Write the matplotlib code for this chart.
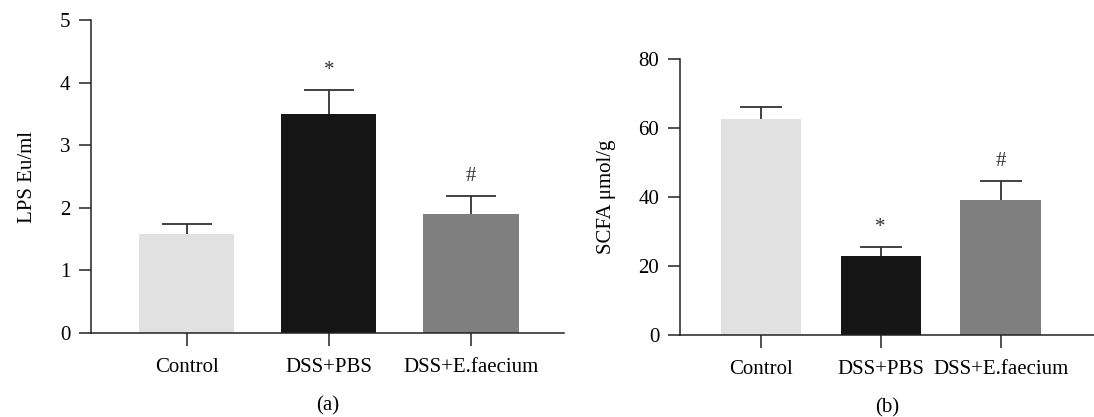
import numpy as np
import matplotlib.pyplot as plt

plt.rcParams['font.family'] = ['Liberation Serif', 'DejaVu Serif']

groups = ['Control', 'DSS+PBS', 'DSS+E.faecium']
colors = ['#e0e1e0', '#151515', '#7f7f7f']

# panel (a) LPS
lps_mean = [1.58, 3.50, 1.90]
lps_err = [0.16, 0.39, 0.29]
lps_marks = ['', '*', '#']

# panel (b) SCFA
scfa_mean = [62.6, 22.9, 39.1]
scfa_err = [3.5, 2.7, 5.5]
scfa_marks = ['', '*', '#']

fig = plt.figure(figsize=(10.94, 4.17), dpi=100)
ax1 = fig.add_axes([0.0832, 0.2014, 0.4323, 0.7506])
ax2 = fig.add_axes([0.6216, 0.1966, 0.3784, 0.6619])


def draw(ax, mean, err, marks, ylim, yticks, ylabel, xright, tag):
    x = np.arange(len(groups))
    mean = np.array(mean)
    err = np.array(err)
    ax.bar(x, mean, width=0.67, color=colors, zorder=2)
    # upper error bars only, no cap at the bar top
    ax.vlines(x, mean, mean + err, color='#333333', lw=1.3, zorder=3)
    ax.hlines(mean + err, x - 0.175, x + 0.175, color='#333333', lw=1.3, zorder=3)
    for xi, m, e, s in zip(x, mean, err, marks):
        if s:
            ax.annotate(s, (xi, m + e), xytext=(0, 7), textcoords='offset points',
                        ha='center', va='bottom', fontsize=15, color='#333333')
    ax.set_xlim(-0.675, xright)
    ax.set_ylim(*ylim)
    ax.set_yticks(yticks)
    ax.set_xticks(x)
    ax.set_xticklabels(groups)
    ax.set_ylabel(ylabel, fontsize=15, labelpad=16)
    for side in ['top', 'right']:
        ax.spines[side].set_visible(False)
    for side in ['left', 'bottom']:
        ax.spines[side].set_linewidth(1.1)
        ax.spines[side].set_color('#222222')
    ax.tick_params(direction='out', length=9, width=1.1, color='#222222',
                   labelsize=15, pad=6)
    ax.tick_params(axis='x', pad=9)
    ax.set_xlabel(tag, fontsize=15, labelpad=14)


draw(ax1, lps_mean, lps_err, lps_marks, (0, 5), [0, 1, 2, 3, 4, 5],
     'LPS Eu/ml', 2.655, '(a)')
draw(ax2, scfa_mean, scfa_err, scfa_marks, (0, 80), [0, 20, 40, 60, 80],
     'SCFA μmol/g', 2.78, '(b)')

fig.savefig('out.png', dpi=100)
